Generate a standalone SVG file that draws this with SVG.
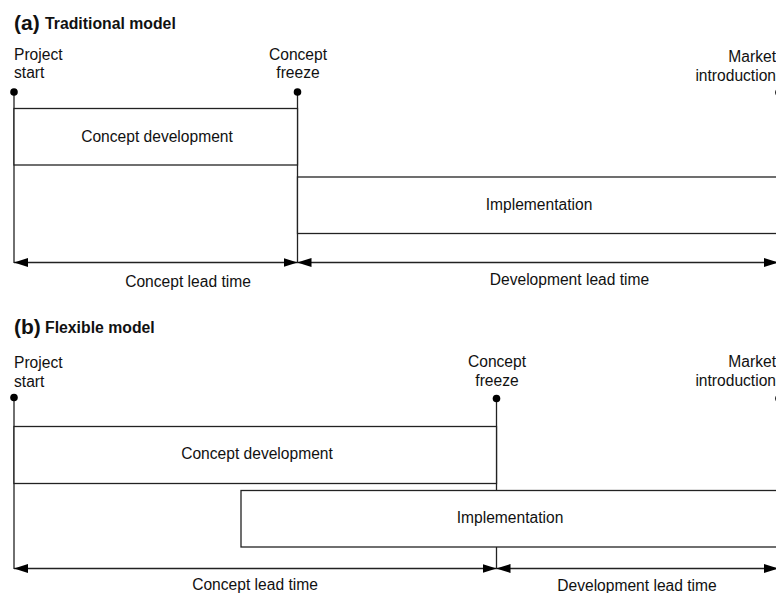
<svg xmlns="http://www.w3.org/2000/svg" width="776" height="593" viewBox="0 0 776 593">
<style>
text{font-family:"Liberation Sans",Arial,sans-serif;font-size:15.6px;fill:#111}
.t{font-weight:bold;font-size:15.8px}
.tl{font-weight:bold;font-size:21px}
.c{text-anchor:middle}
.e{text-anchor:end}
.box{fill:#fff;stroke:#222;stroke-width:1.3}
.ln{stroke:#222;stroke-width:1.3;fill:none}
.ar{stroke:#222;stroke-width:1.3;fill:none;marker-start:url(#ah);marker-end:url(#ah)}
.dot{fill:#000}
</style>
<defs>
<marker id="ah" viewBox="0 0 14 10" refX="14" refY="5" markerWidth="14" markerHeight="10" markerUnits="userSpaceOnUse" orient="auto-start-reverse">
<path d="M0,0.5 L14,5 L0,9.5 z" fill="#000"/>
</marker>
</defs>
<rect width="776" height="593" fill="#fff"/>

<!-- Panel (a) -->
<g id="title-a"><text x="14" y="29.5" class="tl">(a)</text><text x="45" y="28.5" class="t">Traditional model</text></g>

<g id="connectors-a">
<line class="ln" x1="14" y1="92" x2="14" y2="263"/>
<line class="ln" x1="297.5" y1="92" x2="297.5" y2="263"/>
<line class="ar" x1="14" y1="262.5" x2="297.5" y2="262.5"/>
<line class="ar" x1="297.5" y1="262.5" x2="778" y2="262.5"/>
</g>

<g id="a-project-start"><text x="14" y="60">Project</text><text x="14" y="78">start</text><circle class="dot" cx="14" cy="92" r="3.8"/></g>
<g id="a-concept-freeze"><text x="298" y="60" class="c">Concept</text><text x="298" y="78" class="c">freeze</text><circle class="dot" cx="297.5" cy="92" r="3.8"/></g>
<g id="a-market-intro"><text x="776" y="62" class="e">Market</text><text x="776" y="80.5" class="e">introduction</text><circle class="dot" cx="779" cy="92.5" r="3.8"/></g>

<g id="a-concept-dev"><rect class="box" x="14" y="108.5" width="283.5" height="56.5"/><text x="157" y="141.5" class="c">Concept development</text></g>
<g id="a-implementation"><rect class="box" x="297.5" y="177" width="490" height="56.5"/><text x="539" y="210" class="c">Implementation</text></g>

<g id="a-labels"><text x="188" y="286.5" class="c">Concept lead time</text><text x="569.5" y="285" class="c">Development lead time</text></g>

<!-- Panel (b) -->
<g id="title-b"><text x="14" y="333.5" class="tl">(b)</text><text x="45" y="332.5" class="t">Flexible model</text></g>

<g id="connectors-b">
<line class="ln" x1="14" y1="398" x2="14" y2="569"/>
<line class="ln" x1="496.5" y1="398" x2="496.5" y2="569"/>
<line class="ar" x1="14" y1="568.5" x2="496.5" y2="568.5"/>
<line class="ar" x1="496.5" y1="568.5" x2="778" y2="568.5"/>
</g>

<g id="b-project-start"><text x="14" y="368">Project</text><text x="14" y="386.5">start</text><circle class="dot" cx="14" cy="397.5" r="3.8"/></g>
<g id="b-concept-freeze"><text x="497" y="367" class="c">Concept</text><text x="497" y="385.5" class="c">freeze</text><circle class="dot" cx="496.5" cy="398.5" r="3.8"/></g>
<g id="b-market-intro"><text x="776" y="367" class="e">Market</text><text x="776" y="385.5" class="e">introduction</text><circle class="dot" cx="779" cy="398.5" r="3.8"/></g>

<g id="b-concept-dev"><rect class="box" x="14" y="426.5" width="482.5" height="57"/><text x="257" y="458.5" class="c">Concept development</text></g>
<g id="b-implementation"><rect class="box" x="241" y="490.5" width="546" height="56.5"/><text x="510" y="523" class="c">Implementation</text></g>

<g id="b-labels"><text x="255" y="590" class="c">Concept lead time</text><text x="637" y="590.5" class="c">Development lead time</text></g>
</svg>
